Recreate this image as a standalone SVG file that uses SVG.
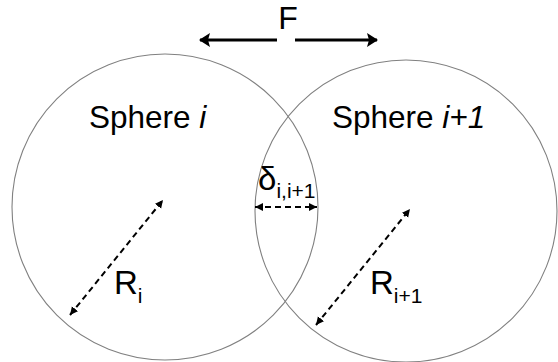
<svg xmlns="http://www.w3.org/2000/svg" width="558" height="362" viewBox="0 0 558 362">
<style>
.circ{fill:none;stroke:#808080;stroke-width:1.1}
.lbl{font-family:"Liberation Sans",Arial,sans-serif;fill:#000}
.force{stroke:#000;stroke-width:3;fill:none}
.dash{stroke:#000;stroke-width:2;stroke-dasharray:6 4;fill:none}
</style>
<defs>
<marker id="bigHead" markerUnits="userSpaceOnUse" markerWidth="14" markerHeight="16" refX="10" refY="8" orient="auto-start-reverse">
<path d="M0,1 L11,8 L0,15 L2,8 Z" fill="#000"/>
</marker>
<marker id="smallHead" markerUnits="userSpaceOnUse" markerWidth="10" markerHeight="10" refX="8" refY="5" orient="auto-start-reverse">
<path d="M0,1 L8,5 L0,9 Z" fill="#000"/>
</marker>
</defs>
<rect width="558" height="362" fill="#fff"/>
<g id="sphere-i">
<circle class="circ" cx="165" cy="207" r="153"/>
<text class="lbl" x="89" y="128" font-size="31.5">Sphere <tspan font-style="italic">i</tspan></text>
</g>
<g id="sphere-i1">
<circle class="circ" cx="406" cy="211" r="151"/>
<text class="lbl" x="332" y="128" font-size="31.5">Sphere <tspan font-style="italic">i+1</tspan></text>
</g>
<g id="force-label">
<text class="lbl" x="288" y="29" font-size="32" text-anchor="middle">F</text>
</g>
<g id="delta-label">
<text class="lbl" x="258" y="190" font-size="33">δ<tspan font-size="21" dy="8">i,i+1</tspan></text>
</g>
<g id="ri-label">
<text class="lbl" x="114" y="294" font-size="33">R<tspan font-size="21" dy="9">i</tspan></text>
</g>
<g id="ri1-label">
<text class="lbl" x="370" y="294" font-size="33">R<tspan font-size="21" dy="9">i+1</tspan></text>
</g>
<g id="connectors">
<line class="force" x1="277" y1="40" x2="200" y2="40" marker-end="url(#bigHead)"/>
<line class="force" x1="295" y1="40" x2="377" y2="40" marker-end="url(#bigHead)"/>
<line class="dash" x1="70" y1="315" x2="163" y2="200" marker-start="url(#smallHead)" marker-end="url(#smallHead)"/>
<line class="dash" x1="316" y1="325" x2="410" y2="209" marker-start="url(#smallHead)" marker-end="url(#smallHead)"/>
<line class="dash" x1="255" y1="207" x2="317" y2="207" marker-start="url(#smallHead)" marker-end="url(#smallHead)"/>
</g>
</svg>
